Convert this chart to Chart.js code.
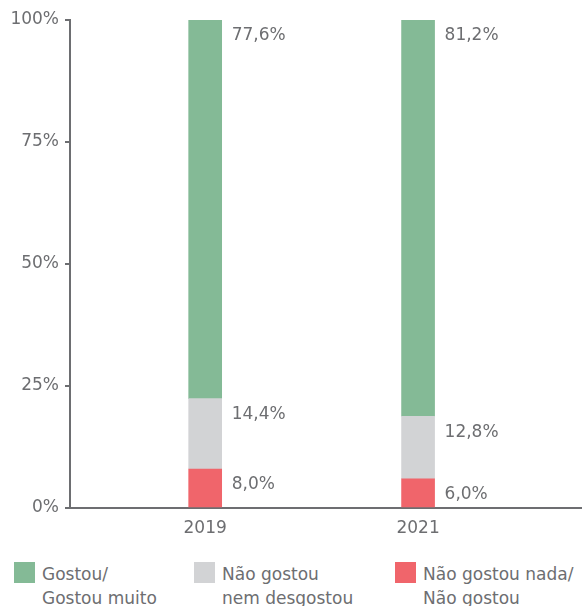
<!DOCTYPE html>
<html>
<head>
  <title>Gostou / Não gostou</title>
  <script src="https://cdn.jsdelivr.net/npm/chart.js"></script>
  <style>
    body { margin: 0; background: #fff; font-family: "DejaVu Sans", sans-serif; color: #6d6e71; }
    .wrap { position: relative; width: 582px; height: 548px; }
    .legend { display: grid; grid-template-columns: 180px 201px auto; padding-left: 14px; margin-top: 14px; }
    .item { display: flex; align-items: flex-start; font-size: 17px; line-height: 24px; }
    .box { width: 21px; height: 21px; margin-right: 7px; flex: none; }
  </style>
</head>
<body>
  <div class="wrap"><canvas id="chart"></canvas></div>
  <div class="legend" id="legend"></div>

  <script>
    // dados
    const years = [2019, 2021];
    const gostou = [77.6, 81.2];
    const neutro = [14.4, 12.8];
    const naoGostou = [8.0, 6.0];
    const yTicks = [0, 25, 50, 75, 100];

    const labelGostou = ['Gostou/', 'Gostou muito'];
    const labelNeutro = ['Não gostou', 'nem desgostou'];
    const labelNao = ['Não gostou nada/', 'Não gostou'];

    const cGreen = '#84ba96', cGray = '#d2d3d5', cRed = '#f0656b';
    const grey = '#6d6e71';
    const font = { family: 'DejaVu Sans', size: 17 };

    const fmt = v => v.toFixed(1).replace('.', ',') + '%';

    // rótulos ao lado de cada segmento
    const valueLabels = {
      id: 'valueLabels',
      afterDatasetsDraw(chart) {
        const ctx = chart.ctx;
        ctx.save();
        ctx.font = font.size + 'px ' + font.family;
        ctx.fillStyle = grey;
        ctx.textAlign = 'left';
        ctx.textBaseline = 'middle';
        chart.data.datasets.forEach((ds, i) => {
          chart.getDatasetMeta(i).data.forEach((bar, j) => {
            ctx.fillText(fmt(ds.data[j].y), bar.x + bar.width / 2 + 10, bar.y + 16);
          });
        });
        ctx.restore();
      }
    };

    new Chart(document.getElementById('chart'), {
      type: 'bar',
      data: {
        datasets: [
          { label: labelNao, data: years.map((y, i) => ({ x: y, y: naoGostou[i] })), backgroundColor: cRed },
          { label: labelNeutro, data: years.map((y, i) => ({ x: y, y: neutro[i] })), backgroundColor: cGray },
          { label: labelGostou, data: years.map((y, i) => ({ x: y, y: gostou[i] })), backgroundColor: cGreen }
        ]
      },
      options: {
        responsive: true,
        maintainAspectRatio: false,
        animation: false,
        barThickness: 33,
        layout: { padding: { top: 20, right: 0, left: 0, bottom: 0 } },
        plugins: { legend: { display: false }, tooltip: { enabled: false } },
        scales: {
          x: {
            type: 'linear',
            stacked: true,
            offset: false,
            min: 2017.73,
            max: 2022.54,
            afterBuildTicks: s => { s.ticks = years.map(v => ({ value: v })); },
            afterFit: s => { s.height = 40; },
            ticks: { color: grey, font: font, padding: 10, callback: v => String(v) },
            grid: { display: false, drawTicks: false },
            border: { color: grey, width: 2 }
          },
          y: {
            stacked: true,
            min: 0,
            max: 100,
            afterBuildTicks: s => { s.ticks = yTicks.map(v => ({ value: v })); },
            afterFit: s => { s.width = 70; },
            ticks: { color: grey, font: font, padding: 6, callback: v => v + '%' },
            grid: { drawOnChartArea: false, tickLength: 5, color: grey, lineWidth: 2 },
            border: { color: grey, width: 2 }
          }
        }
      },
      plugins: [valueLabels]
    });

    // legenda em HTML (rótulos em duas linhas)
    const legendItems = [[labelGostou, cGreen], [labelNeutro, cGray], [labelNao, cRed]];
    document.getElementById('legend').innerHTML = legendItems.map(([txt, c]) =>
      '<div class="item"><span class="box" style="background:' + c + '"></span><span>' + txt.join('<br>') + '</span></div>'
    ).join('');
  </script>
</body>
</html>
